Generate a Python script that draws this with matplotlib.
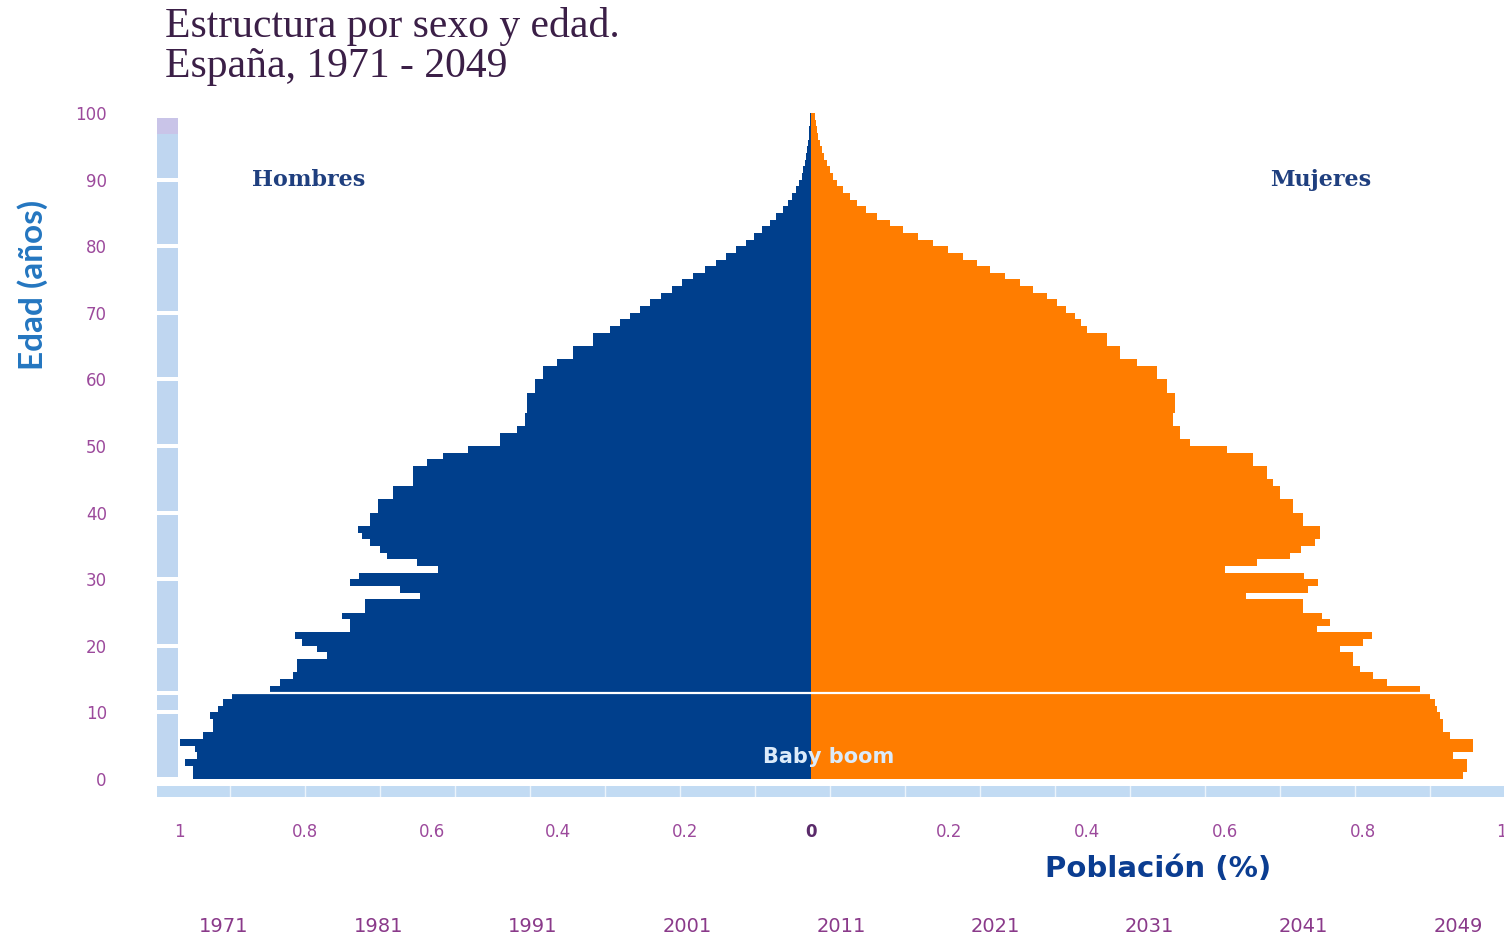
import numpy as np
import matplotlib.pyplot as plt
from matplotlib.patches import Rectangle

# --- Data: % of total population by single year of age, Spain 1971 ---
ages = np.arange(0, 100)

hombres = [
    0.978, 0.978, 0.990, 0.971, 0.975, 0.998, 0.962, 0.946, 0.946, 0.951,
    0.938, 0.930, 0.916, 0.856, 0.840, 0.820, 0.813, 0.813, 0.766, 0.782,
    0.805, 0.816, 0.729, 0.729, 0.742, 0.706, 0.706, 0.619, 0.650, 0.729,
    0.715, 0.590, 0.623, 0.671, 0.682, 0.698, 0.710, 0.717, 0.698, 0.698,
    0.685, 0.685, 0.661, 0.661, 0.630, 0.630, 0.630, 0.608, 0.582, 0.543,
    0.492, 0.492, 0.465, 0.453, 0.453, 0.449, 0.449, 0.449, 0.437, 0.437,
    0.424, 0.424, 0.402, 0.377, 0.377, 0.345, 0.345, 0.318, 0.302, 0.286,
    0.270, 0.254, 0.238, 0.220, 0.204, 0.186, 0.168, 0.150, 0.134, 0.118,
    0.103, 0.090, 0.077, 0.065, 0.055, 0.045, 0.037, 0.030, 0.024, 0.019,
    0.015, 0.012, 0.0095, 0.0075, 0.006, 0.0045, 0.0035, 0.0025, 0.002, 0.0015,
]

mujeres = [
    0.945, 0.951, 0.951, 0.930, 0.959, 0.959, 0.926, 0.916, 0.916, 0.912,
    0.907, 0.905, 0.897, 0.883, 0.835, 0.815, 0.796, 0.786, 0.786, 0.767,
    0.800, 0.813, 0.733, 0.752, 0.740, 0.713, 0.713, 0.630, 0.720, 0.735,
    0.715, 0.600, 0.646, 0.694, 0.710, 0.730, 0.738, 0.738, 0.713, 0.713,
    0.699, 0.699, 0.680, 0.680, 0.670, 0.661, 0.661, 0.641, 0.641, 0.603,
    0.549, 0.535, 0.535, 0.525, 0.525, 0.528, 0.528, 0.528, 0.516, 0.516,
    0.501, 0.501, 0.472, 0.448, 0.448, 0.429, 0.429, 0.400, 0.392, 0.383,
    0.370, 0.356, 0.342, 0.322, 0.303, 0.281, 0.259, 0.240, 0.220, 0.198,
    0.177, 0.155, 0.133, 0.114, 0.096, 0.080, 0.067, 0.056, 0.046, 0.038,
    0.032, 0.027, 0.023, 0.019, 0.016, 0.013, 0.010, 0.008, 0.007, 0.006,
]

xticks_left = [1, 0.8, 0.6, 0.4, 0.2, 0]
xticks_right = [0.2, 0.4, 0.6, 0.8, 1]
yticks = list(range(0, 101, 10))
years = [1971, 1981, 1991, 2001, 2011, 2021, 2031, 2041, 2049]

# --- Style ---
c_male = "#003F8C"
c_female = "#FF7D00"
c_tick = "#9C4A9C"
c_title = "#3B1F47"
W, H = 1504, 939

fig = plt.figure(figsize=(W / 100, H / 100), dpi=100)
fig.patch.set_facecolor("white")

# background decorations (timeline slider strips), pixel coords
bg = fig.add_axes([0, 0, 1, 1], zorder=-1)
bg.set_xlim(0, W)
bg.set_ylim(H, 0)
bg.axis("off")
gaps = [779 - 6.66 * a for a in (90, 80, 70, 60, 50, 40, 30, 20, 12.9, 10)]
edges = [118] + sorted(gaps) + [779]
for top, bot in zip(edges[:-1], edges[1:]):
    bg.add_patch(Rectangle((157, top + 2), 21, bot - top - 4, color="#BFD6F0", lw=0))
bg.add_patch(Rectangle((157, 118), 21, 16, color="#C9C4E8", lw=0))
bg.add_patch(Rectangle((157, 786), W - 157, 11, color="#C2DBF3", lw=0))
for xp in np.arange(230, W, 75):
    bg.plot([xp, xp], [786, 797], color="white", lw=1, alpha=0.7)

# pyramid: two half axes (left scale slightly narrower, as in the original)
bottom = (H - 779) / H
height = 666 / H
axL = fig.add_axes([179 / W, bottom, 632 / W, height])
axR = fig.add_axes([811 / W, bottom, 690 / W, height])

axL.barh(ages, hombres, height=1, align="edge", color=c_male, lw=0)
axR.barh(ages, mujeres, height=1, align="edge", color=c_female, lw=0)

axL.set_xlim(1, 0)
axR.set_xlim(0, 1)
for ax in (axL, axR):
    ax.set_ylim(0, 100)
    ax.patch.set_alpha(0)
    for s in ax.spines.values():
        s.set_visible(False)
    ax.axhline(12.85, color="white", lw=1.6)
    ax.tick_params(axis="x", length=0, pad=32, labelsize=12, labelcolor=c_tick)

axL.set_xticks(xticks_left)
axL.set_xticklabels([f"{t:g}" for t in xticks_left])
axL.get_xticklabels()[-1].set_fontweight("bold")
axL.get_xticklabels()[-1].set_color("#5A2A6A")
axR.set_xticks(xticks_right)
axR.set_xticklabels([f"{t:g}" for t in xticks_right])

axL.set_yticks(yticks)
axL.tick_params(axis="y", length=0, pad=52, labelsize=12, labelcolor=c_tick)
axR.set_yticks([])

axL.text(0.795, 90, "Hombres", family="DejaVu Serif", fontweight="bold",
         fontsize=16, color="#1F3F7F", ha="center", va="center")
axR.text(0.738, 90, "Mujeres", family="DejaVu Serif", fontweight="bold",
         fontsize=16, color="#1F3F7F", ha="center", va="center")

fig.text(829 / W, 1 - 757 / H, "Baby boom", color="#DCEBFA", fontsize=15,
         fontweight="bold", ha="center", va="center")

# titles and axis labels
fig.text(165 / W, 1 - 27 / H, "Estructura por sexo y edad.", family="Liberation Serif",
         fontsize=30, color=c_title, va="center")
fig.text(165 / W, 1 - 67 / H, "España, 1971 - 2049", family="Liberation Serif",
         fontsize=30, color=c_title, va="center")
fig.text(33 / W, 1 - 285 / H, "Edad (años)", family="Lato", fontweight="bold",
         fontsize=24, color="#2476C0", rotation=90, ha="center", va="center")
fig.text(1158 / W, 1 - 869 / H, "Población (%)", fontweight="bold", fontsize=21,
         color="#0B3D91", ha="center", va="center")

# timeline years
for xp, yr in zip(np.linspace(224, 1458, len(years)), years):
    fig.text(xp / W, 1 - 926 / H, str(yr), fontsize=14, color="#8A3A8A",
             ha="center", va="center")

fig.savefig("out.png", dpi=100)
